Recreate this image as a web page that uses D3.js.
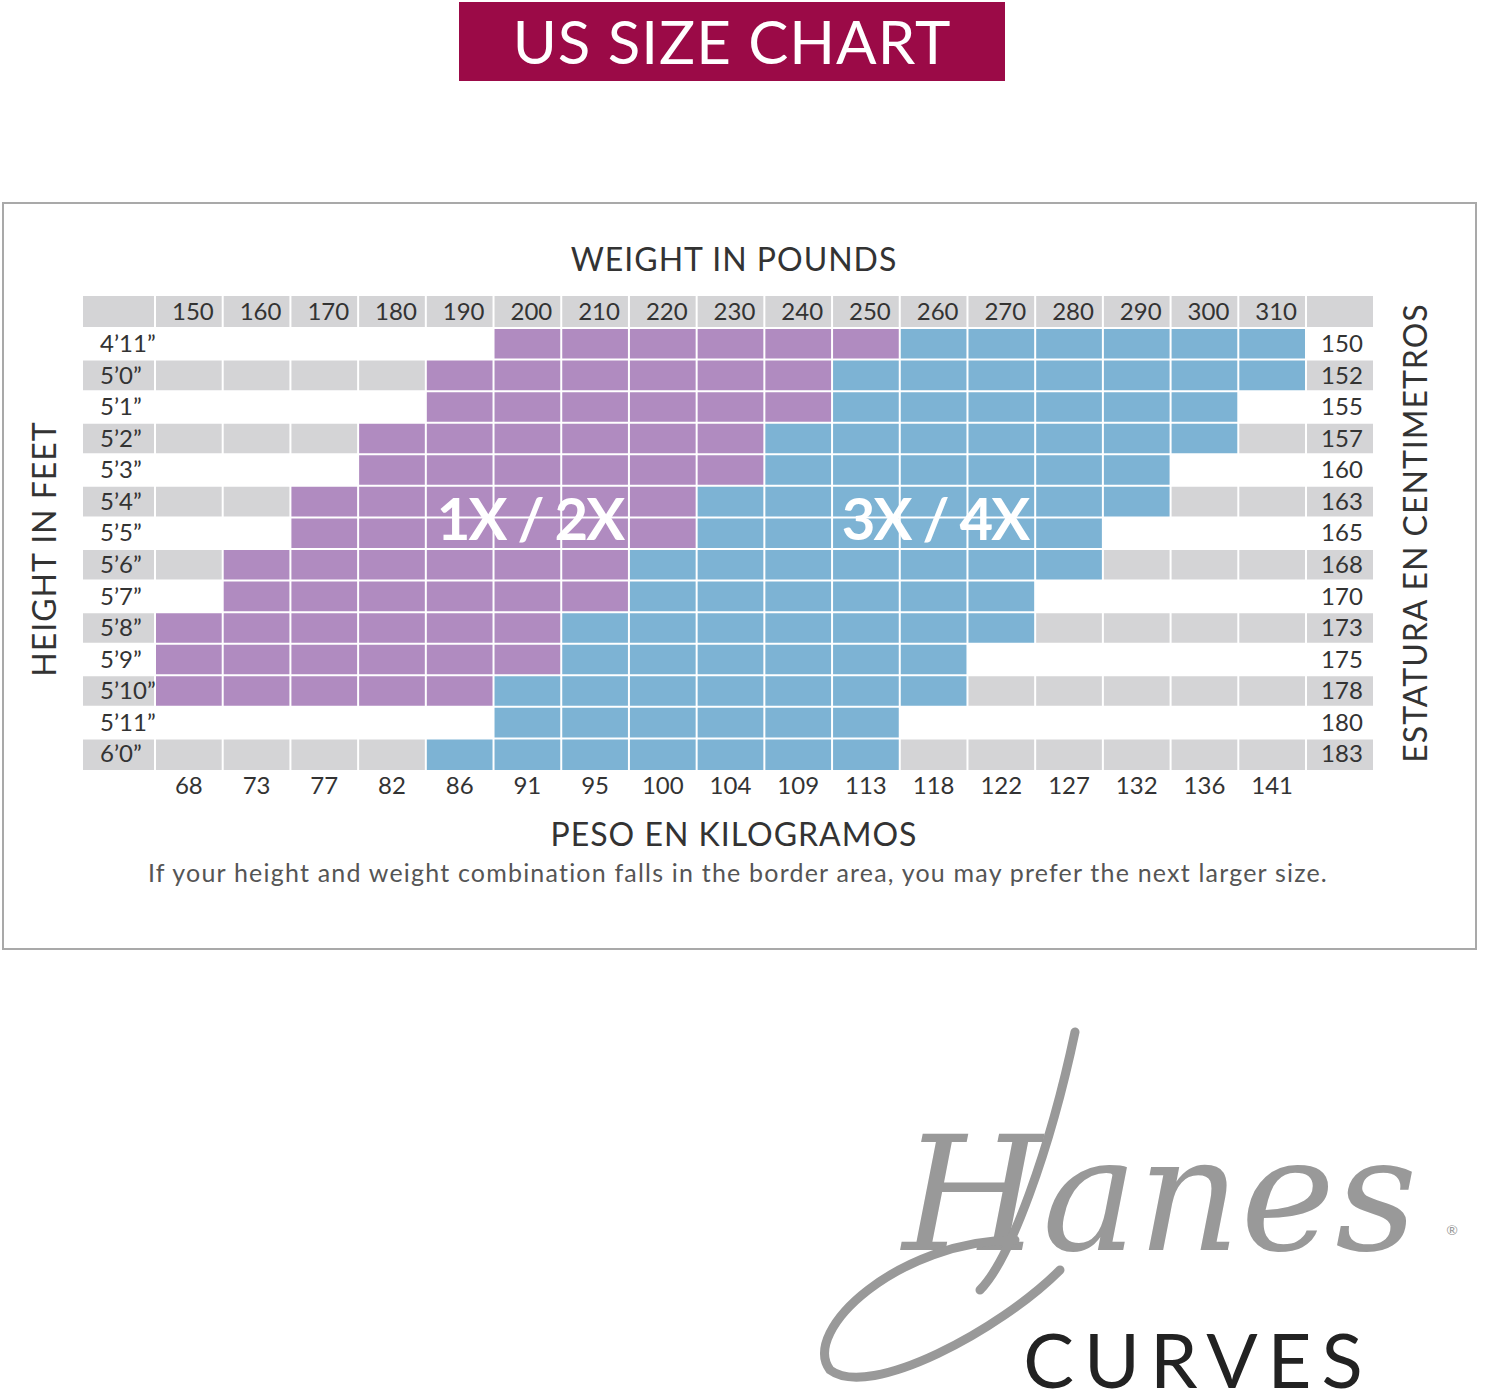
<!DOCTYPE html>
<html><head><meta charset="utf-8">
<script src="https://cdn.jsdelivr.net/npm/d3@7"></script>
<style>body{margin:0;background:#fff}</style>
</head><body>
<svg id="chart" width="1500" height="1398"></svg>
<script>
var weights = [150,160,170,180,190,200,210,220,230,240,250,260,270,280,290,300,310];
var kilos = [68,73,77,82,86,91,95,100,104,109,113,118,122,127,132,136,141];
var heights = ["4\u201911\u201d","5\u20190\u201d","5\u20191\u201d","5\u20192\u201d","5\u20193\u201d","5\u20194\u201d","5\u20195\u201d","5\u20196\u201d","5\u20197\u201d","5\u20198\u201d","5\u20199\u201d","5\u201910\u201d","5\u201911\u201d","6\u20190\u201d"];
var cms = [150,152,155,157,160,163,165,168,170,173,175,178,180,183];
// first purple weight, first blue weight, last blue weight per row (null = none)
var purpleFrom = [200,190,190,180,180,170,170,160,160,150,150,150,null,null];
var blueFrom   = [260,250,250,240,240,230,230,220,220,210,210,200,200,190];
var blueTo     = [310,310,300,300,290,290,280,280,270,270,260,260,250,250];

var svg = d3.select("#chart");
var font = "Lato, 'Open Sans', sans-serif";

// title
svg.append("rect").attr("x",459).attr("y",2).attr("width",546).attr("height",79).attr("fill","#9b0a47");
svg.append("text").attr("x",732).attr("y",64).attr("text-anchor","middle").attr("fill","#fff")
  .attr("font-family",font).attr("font-size",60).attr("letter-spacing",1).text("US SIZE CHART");

// frame
svg.append("rect").attr("x",3).attr("y",203).attr("width",1473).attr("height",746)
  .attr("fill","none").attr("stroke","#a9a9a9").attr("stroke-width",2);

var x = d3.scaleBand().domain(weights).range([155,1306]);
var y = d3.scaleBand().domain(heights).range([328,770]);
var hdrTop = 296, hdrH = 32;

svg.append("rect").attr("x",83).attr("y",hdrTop).attr("width",1290).attr("height",hdrH).attr("fill","#d4d4d6");
heights.forEach(function(h,i){
  if(i%2==1) svg.append("rect").attr("x",83).attr("y",y(h)).attr("width",1290).attr("height",y.bandwidth()).attr("fill","#d4d4d6");
});
heights.forEach(function(h,i){
  weights.forEach(function(w){
    var c=null;
    if(purpleFrom[i]!==null && w>=purpleFrom[i] && w<blueFrom[i]) c="#b08bc0";
    else if(w>=blueFrom[i] && w<=blueTo[i]) c="#7db3d4";
    if(c) svg.append("rect").attr("x",x(w)).attr("y",y(h)).attr("width",x.bandwidth()).attr("height",y.bandwidth()).attr("fill",c);
  });
});
var cols = weights.map(function(w){return x(w);}).concat([1306]);
cols.forEach(function(cx){
  svg.append("line").attr("x1",cx).attr("x2",cx).attr("y1",hdrTop).attr("y2",770).attr("stroke","#fff").attr("stroke-width",2);
});
heights.forEach(function(h){
  svg.append("line").attr("x1",83).attr("x2",1373).attr("y1",y(h)).attr("y2",y(h)).attr("stroke","#fff").attr("stroke-width",2);
});

var txt = function(tx,ty,s,size,anchor){
  return svg.append("text").attr("x",tx).attr("y",ty).attr("font-family",font).attr("font-size",size)
    .attr("fill","#333").attr("text-anchor",anchor||"middle").text(s);
};
weights.forEach(function(w){ txt(x(w)+x.bandwidth()/2+4, hdrTop+24, w, 24); });
kilos.forEach(function(k,i){ txt(x(weights[i])+x.bandwidth()/2, 794, k, 24); });
heights.forEach(function(h,i){
  txt(100, y(h)+24, h, 24, "start");
  txt(1342, y(h)+24, cms[i], 24);
});

txt(734,271,"WEIGHT IN POUNDS",32).attr("letter-spacing",1);
txt(734,846,"PESO EN KILOGRAMOS",32).attr("letter-spacing",1);
txt(738,882,"If your height and weight combination falls in the border area, you may prefer the next larger size.",25)
  .attr("fill","#555").attr("letter-spacing",1.2);
txt(0,0,"HEIGHT IN FEET",32).attr("letter-spacing",1).attr("transform","translate(56,549) rotate(-90)");
txt(0,0,"ESTATURA EN CENTIMETROS",32).attr("letter-spacing",1).attr("transform","translate(1427,533) rotate(-90)");

[["1X / 2X",530],["3X / 4X",935]].forEach(function(d){
  svg.append("text").attr("x",d[1]).attr("y",540).attr("text-anchor","middle").attr("fill","#fff")
    .attr("font-family",font).attr("font-weight","bold").attr("font-size",58).attr("letter-spacing",-2).text(d[0]);
});

// logo
svg.append("text").attr("x",1160).attr("y",1250).attr("text-anchor","middle").attr("fill","#999")
  .attr("font-family","'DejaVu Serif', serif").attr("font-style","italic").attr("font-size",160).text("Hanes");
svg.append("path").attr("d","M1075,1032 C1050,1150 1010,1260 980,1290 M1015,1240 C900,1240 800,1330 830,1370 C870,1400 1000,1330 1060,1270")
  .attr("fill","none").attr("stroke","#999").attr("stroke-width",9).attr("stroke-linecap","round");
svg.append("text").attr("x",1452).attr("y",1235).attr("text-anchor","middle").attr("fill","#999")
  .attr("font-family",font).attr("font-size",14).text("\u00ae");
svg.append("text").attr("x",1198).attr("y",1388).attr("text-anchor","middle").attr("fill","#222")
  .attr("font-family",font).attr("font-size",76).attr("letter-spacing",10).text("CURVES");
</script>
</body></html>
